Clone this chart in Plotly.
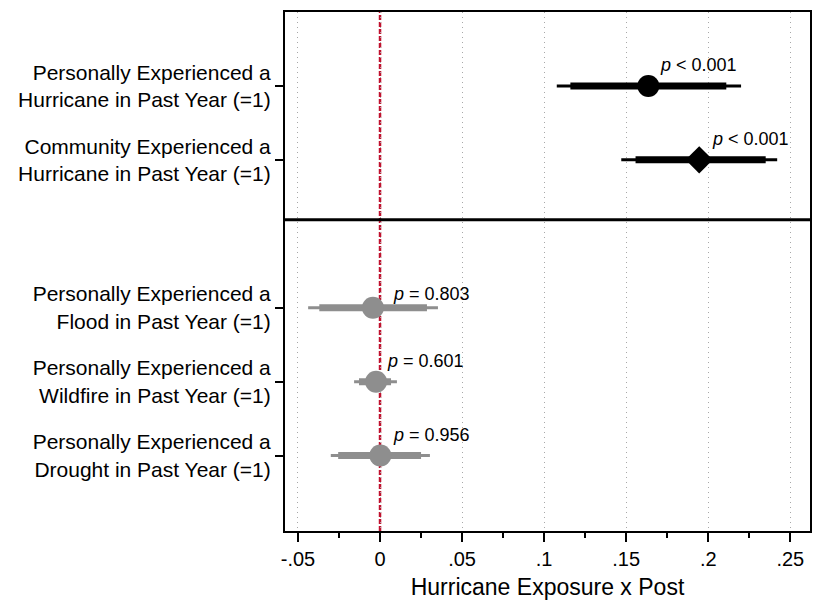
import plotly.graph_objects as go

labels = [
    "Personally Experienced a<br>Hurricane in Past Year (=1)",
    "Community Experienced a<br>Hurricane in Past Year (=1)",
    "Personally Experienced a<br>Flood in Past Year (=1)",
    "Personally Experienced a<br>Wildfire in Past Year (=1)",
    "Personally Experienced a<br>Drought in Past Year (=1)",
]
positions = [1, 2, 4, 5, 6]
estimates = [0.1635, 0.1945, -0.0043, -0.0024, 0.0002]
ci95_low = [0.1077, 0.1470, -0.0438, -0.0158, -0.0300]
ci95_high = [0.2200, 0.2420, 0.0353, 0.0103, 0.0304]
ci90_low = [0.1160, 0.1557, -0.0370, -0.0128, -0.0255]
ci90_high = [0.2110, 0.2350, 0.0286, 0.0067, 0.0250]
pvalues = ["<i>p</i> < 0.001", "<i>p</i> < 0.001", "<i>p</i> = 0.803", "<i>p</i> = 0.601", "<i>p</i> = 0.956"]
symbols = ["circle", "diamond", "circle", "circle", "circle"]
colors = ["black", "black", "#8e8e8e", "#8e8e8e", "#8e8e8e"]
# label offsets in pixels (style)
label_dx = [10, 11, 18, 9, 11]
label_dy = [21, 21, 14, 21, 21]

xtick_vals = [-0.05, 0, 0.05, 0.1, 0.15, 0.2, 0.25]
xtick_text = ["-.05", "0", ".05", ".1", ".15", ".2", ".25"]

FONT = "Liberation Sans, Arial, Helvetica, sans-serif"

fig = go.Figure()

for i in range(len(positions)):
    y = positions[i]
    c = colors[i]
    fig.add_trace(go.Scatter(x=[ci95_low[i], ci95_high[i]], y=[y, y], mode="lines",
                             line=dict(color=c, width=3), showlegend=False, hoverinfo="skip"))
    fig.add_trace(go.Scatter(x=[ci90_low[i], ci90_high[i]], y=[y, y], mode="lines",
                             line=dict(color=c, width=7), showlegend=False, hoverinfo="skip"))
    fig.add_trace(go.Scatter(x=[estimates[i]], y=[y], mode="markers",
                             marker=dict(symbol=symbols[i], color=c,
                                         size=21 if symbols[i] == "diamond" else 22,
                                         line=dict(width=0)),
                             showlegend=False))
    fig.add_annotation(x=estimates[i], y=y, text=pvalues[i], showarrow=False,
                       xanchor="left", yanchor="middle", xshift=label_dx[i], yshift=label_dy[i],
                       font=dict(family=FONT, size=18, color="black"))

# zero reference line
fig.add_shape(type="line", x0=0, x1=0, y0=0, y1=1, xref="x", yref="paper",
              line=dict(color="#c0112e", width=2.5, dash="5px,2px"), layer="between")
# separator between groups
fig.add_shape(type="line", x0=0, x1=1, y0=2.81, y1=2.81, xref="paper", yref="y",
              line=dict(color="black", width=3), layer="above")

fig.update_layout(
    width=815, height=601,
    margin=dict(l=285, r=3, t=12, b=70),
    plot_bgcolor="white", paper_bgcolor="white",
    font=dict(family=FONT, size=21, color="black"),
    showlegend=False,
    xaxis=dict(
        range=[-0.0579, 0.262],
        tickvals=xtick_vals, ticktext=xtick_text,
        ticks="outside", ticklen=9, tickwidth=1.5, tickcolor="black",
        minor=dict(dtick=0.025, tick0=0, ticks="outside", ticklen=5, tickwidth=1.5,
                   tickcolor="black", showgrid=False),
        showgrid=True, gridcolor="#a8a8a8", gridwidth=1, griddash="1px,4px",
        showline=True, linecolor="black", linewidth=2, mirror=True,
        zeroline=False,
        title=dict(text="Hurricane Exposure x Post", font=dict(size=23), standoff=10),
        tickfont=dict(size=20),
    ),
    yaxis=dict(
        range=[7.02, 0.0],
        tickvals=positions, ticktext=labels,
        ticks="outside", ticklen=8, tickwidth=1.5, tickcolor="black",
        showgrid=False, zeroline=False,
        showline=True, linecolor="black", linewidth=2, mirror=True,
        tickfont=dict(size=21),
    ),
)

fig.write_html("out.html", config={"displayModeBar": False},
               post_script="document.body.style.margin='0';document.body.style.overflow='hidden';")
